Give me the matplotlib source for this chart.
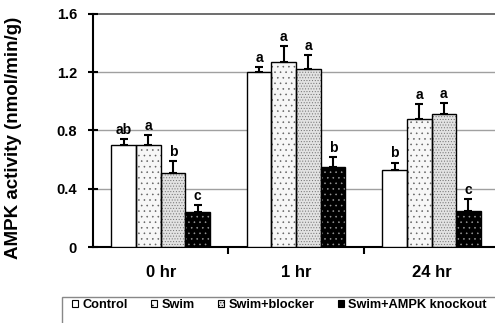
import numpy as np
import matplotlib.pyplot as plt
from matplotlib.patches import Patch, Rectangle

plt.rcParams['font.family'] = ['Liberation Sans', 'DejaVu Sans']
plt.rcParams['hatch.linewidth'] = 0.4

# data
groups = ['0 hr', '1 hr', '24 hr']
series = ['Control', 'Swim', 'Swim+blocker', 'Swim+AMPK knockout']
means = [[0.70, 1.20, 0.53],
         [0.70, 1.27, 0.88],
         [0.51, 1.22, 0.91],
         [0.24, 0.55, 0.25]]
errs = [[0.04, 0.035, 0.05],
        [0.07, 0.11, 0.10],
        [0.08, 0.10, 0.08],
        [0.05, 0.07, 0.08]]
letters = [['ab', 'a', 'b'],
           ['a', 'a', 'a'],
           ['b', 'a', 'a'],
           ['c', 'b', 'c']]

faces = ['white', '#f7f7f7', '#e2e2e2', 'black']
hatches = [None, '...', '......', '...']
hatch_cols = [None, '#606060', '#707070', '#9a9a9a']

fig = plt.figure(figsize=(4.95, 3.23), dpi=100)
ax = fig.add_axes([0.188, 0.235, 0.815, 0.722])

x = np.arange(len(groups))
w = 0.182
for i in range(len(series)):
    pos = x + (i - 1.5) * w
    ax.bar(pos, means[i], w, color=faces[i], linewidth=0, zorder=3)
    if hatches[i]:
        ax.bar(pos, means[i], w, color='none', edgecolor=hatch_cols[i], linewidth=0,
               hatch=hatches[i], zorder=3.2)
    ax.bar(pos, means[i], w, color='none', edgecolor='black', linewidth=1.0, zorder=3.4)
    ax.errorbar(pos, means[i], yerr=[np.zeros(3), errs[i]], fmt='none',
                ecolor='black', elinewidth=1.5, capsize=3, capthick=1.5, zorder=4)
    for j in range(3):
        ax.text(pos[j], means[i][j] + errs[i][j] + 0.015, letters[i][j],
                ha='center', va='bottom', fontsize=10, fontweight='bold')

ax.set_xlim(-0.5, 2.48)
ax.set_ylim(0, 1.6)
ax.set_yticks([0, 0.4, 0.8, 1.2, 1.6])
ax.set_yticklabels(['0', '0.4', '0.8', '1.2', '1.6'], fontsize=10.5, fontweight='bold')
ax.set_xticks([0.5, 1.5])
ax.set_xticklabels([])
for j, g in enumerate(groups):
    ax.text(x[j], -0.12, g, ha='center', va='top', fontsize=12, fontweight='bold')
for v in [0.4, 0.8, 1.2]:
    ax.axhline(v, color='#a0a0a0', linewidth=1.0, zorder=1)
ax.axhline(1.6, color='#555555', linewidth=1.2, zorder=1, clip_on=False)
ax.spines['top'].set_visible(False)
ax.spines['right'].set_visible(False)
ax.spines['left'].set_linewidth(1.5)
ax.spines['bottom'].set_linewidth(1.5)
ax.tick_params(axis='y', direction='inout', length=7, width=1.5, pad=8)
ax.tick_params(axis='x', direction='out', length=5, width=1.5)
ax.set_ylabel('AMPK activity (nmol/min/g)', fontsize=13.5, fontweight='bold')
ax.yaxis.set_label_coords(-0.175, 0.47)

handles = []
for i in range(len(series)):
    handles.append(Patch(facecolor=faces[i], edgecolor='black', hatch=hatches[i],
                         linewidth=0.8, label=series[i]))
fig.legend(handles=handles, loc='center left', bbox_to_anchor=(72 / 495, 18 / 323),
           ncol=4, frameon=False, borderpad=0, borderaxespad=0,
           prop={'size': 9.2, 'weight': 'bold'}, handlelength=0.45, handleheight=0.45,
           handletextpad=0.35, columnspacing=1.85)
fig.patches.append(Rectangle((62 / 495, -0.1), 1.0, 0.1 + 26 / 323, fill=False,
                             edgecolor='#888888', linewidth=1.0,
                             transform=fig.transFigure))

fig.savefig('out.png', dpi=100)
